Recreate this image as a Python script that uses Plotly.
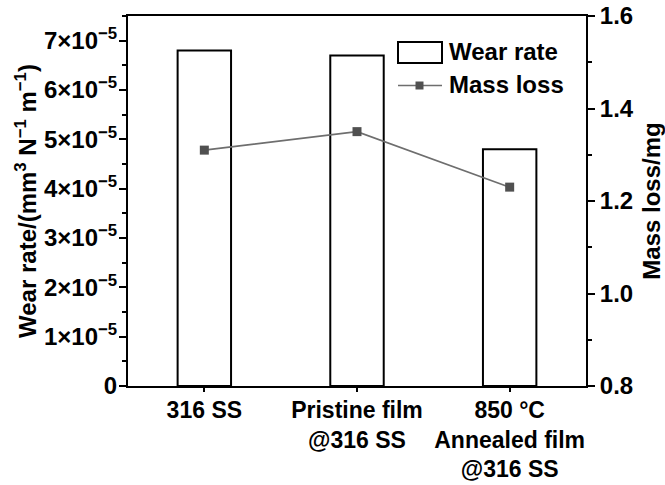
import plotly.graph_objects as go

# Samples and measurements
categories = ["316 SS", "Pristine film<br>@316 SS", "850 °C<br>Annealed film<br>@316 SS"]
wear_rate = [6.8e-5, 6.7e-5, 4.8e-5]      # mm^3 N^-1 m^-1
mass_loss = [1.31, 1.35, 1.23]            # mg

# Left axis tick labels in power notation
wear_tickvals = [0, 1e-5, 2e-5, 3e-5, 4e-5, 5e-5, 6e-5, 7e-5]
wear_ticktext = ["0"] + [f"{k}×10<sup>−5</sup>" for k in range(1, 8)]
wear_minor = [0.5e-5 + k * 1e-5 for k in range(8)]

FONT = "Liberation Sans, Arial, sans-serif"
fs = 24

x_idx = list(range(len(categories)))

fig = go.Figure()
fig.add_trace(go.Bar(
    x=x_idx, y=wear_rate, name="Wear rate", width=0.35,
    marker=dict(color="white", line=dict(color="black", width=2)),
    yaxis="y", showlegend=False,
))
fig.add_trace(go.Scatter(
    x=x_idx, y=mass_loss, name="Mass loss", mode="lines+markers",
    line=dict(color="#6e6e6e", width=1.6),
    marker=dict(symbol="square", size=9, color="#505050"),
    yaxis="y2", showlegend=False,
))

axis_common = dict(showline=True, linecolor="black", linewidth=2,
                   ticks="outside", tickcolor="black", tickwidth=2,
                   showgrid=False, zeroline=False, automargin=False)

fig.update_layout(
    width=665, height=485,
    margin=dict(l=128, r=79, t=16, b=99),
    paper_bgcolor="white", plot_bgcolor="white",
    font=dict(family=FONT, size=fs, color="black", weight="bold"),
    xaxis=dict(**axis_common, range=[-0.5, 2.5], mirror=True, ticklen=4,
               tickmode="array", tickvals=x_idx, ticktext=categories,
               tickfont=dict(size=23, weight="bold"), ticklabelstandoff=-2),
    yaxis=dict(**axis_common, range=[0, 7.5e-5], ticklen=7,
               tickmode="array", tickvals=wear_tickvals, ticktext=wear_ticktext,
               tickfont=dict(size=fs, weight="bold"), ticklabelstandoff=-3,
               minor=dict(tickmode="array", tickvals=wear_minor, ticks="outside",
                          ticklen=4, tickwidth=2, tickcolor="black"),
               title=dict(text="Wear rate/(mm<sup>3</sup> N<sup>−1</sup> m<sup>−1</sup>)",
                          font=dict(size=fs, weight="bold"), standoff=1)),
    yaxis2=dict(**axis_common, overlaying="y", side="right", anchor="x",
                range=[0.8, 1.6], dtick=0.2, tick0=0.8, tickformat=".1f", ticklen=7,
                tickfont=dict(size=fs, weight="bold"),
                minor=dict(dtick=0.1, ticks="outside", ticklen=4, tickwidth=2,
                           tickcolor="black"),
                title=dict(text="Mass loss/mg", font=dict(size=fs, weight="bold"),
                           standoff=12)),
)

# Legend drawn in paper coordinates
def px_x(p):
    return (p - 128) / (586 - 128)

def px_y(p):
    return (386 - p) / (386 - 16)

fig.add_shape(type="rect", xref="paper", yref="paper",
              x0=px_x(398), x1=px_x(442), y0=px_y(63), y1=px_y(42),
              line=dict(color="black", width=2), fillcolor="white")
fig.add_shape(type="line", xref="paper", yref="paper",
              x0=px_x(398), x1=px_x(442), y0=px_y(85.5), y1=px_y(85.5),
              line=dict(color="#6e6e6e", width=1.6))
fig.add_shape(type="rect", xref="paper", yref="paper",
              x0=px_x(415.5), x1=px_x(423.5), y0=px_y(89.5), y1=px_y(81.5),
              line=dict(width=0), fillcolor="#505050")
for label, yc in [("Wear rate", 51), ("Mass loss", 84)]:
    fig.add_annotation(text=label, xref="paper", yref="paper",
                       x=px_x(447), y=px_y(yc), xanchor="left", yanchor="middle",
                       showarrow=False, font=dict(size=fs, weight="bold"))

fig.write_html("out.html")
